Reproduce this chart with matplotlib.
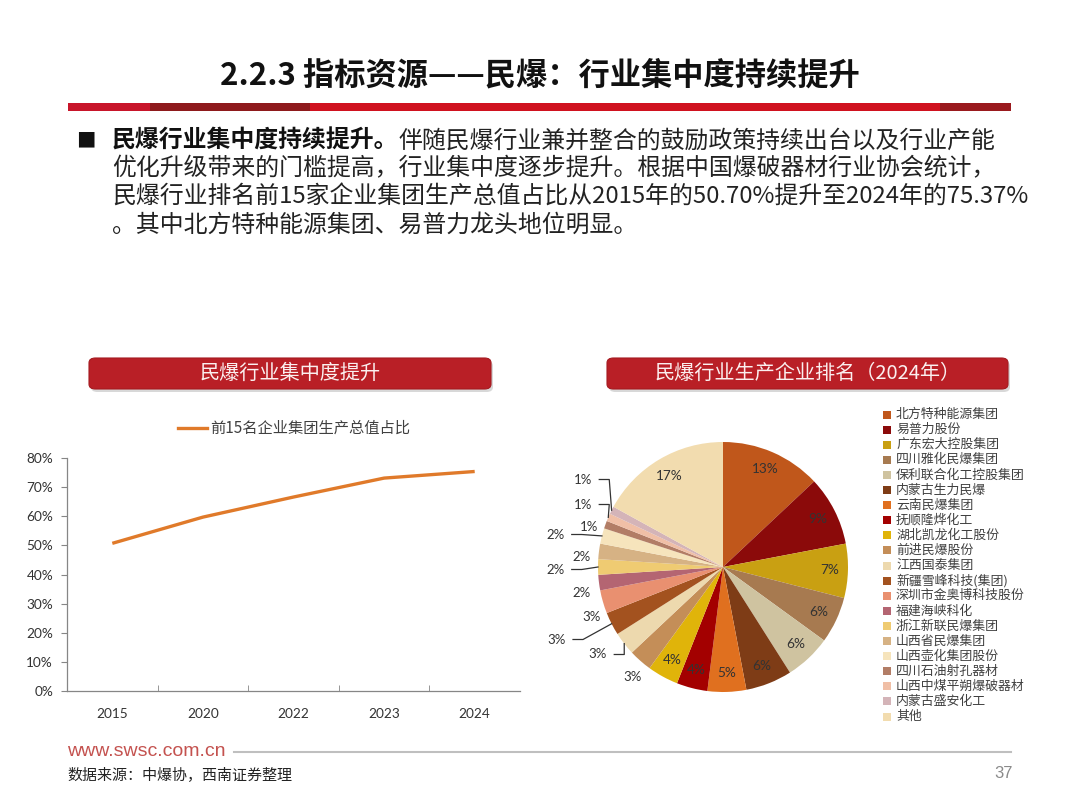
import matplotlib
matplotlib.use("Agg")
import matplotlib.pyplot as plt
from matplotlib.patches import Rectangle, FancyBboxPatch
from matplotlib.lines import Line2D
import numpy as np

plt.rcParams['font.family'] = ['Noto Sans CJK SC', 'DejaVu Sans']

# ---------------- data ----------------
years = ["2015", "2020", "2022", "2023", "2024"]
top15_share = [0.507, 0.597, 0.666, 0.731, 0.7537]
line_label = "前15名企业集团生产总值占比"

companies = ["北方特种能源集团", "易普力股份", "广东宏大控股集团", "四川雅化民爆集团",
             "保利联合化工控股集团", "内蒙古生力民爆", "云南民爆集团", "抚顺隆烨化工",
             "湖北凯龙化工股份", "前进民爆股份", "江西国泰集团", "新疆雪峰科技(集团)",
             "深圳市金奥博科技股份", "福建海峡科化", "浙江新联民爆集团", "山西省民爆集团",
             "山西壶化集团股份", "四川石油射孔器材", "山西中煤平朔爆破器材", "内蒙古盛安化工", "其他"]
shares = [13, 9, 7, 6, 6, 6, 5, 4, 4, 3, 3, 3, 3, 2, 2, 2, 2, 1, 1, 1, 17]
pie_colors = ["#C0571B", "#8B0A0A", "#C9A012", "#A77A50", "#CFC3A0", "#7E3C16", "#E0701F",
              "#A30000", "#E0B40A", "#C48E58", "#EDD9AE", "#A3521F", "#E99070", "#B46572",
              "#EFCB72", "#D6B284", "#F6E4BC", "#B27D66", "#F0BFA6", "#D4B4B8", "#F2DCAF"]

title = "2.2.3 指标资源——民爆：行业集中度持续提升"
body_bold = "民爆行业集中度持续提升。"
body_lines = ["伴随民爆行业兼并整合的鼓励政策持续出台以及行业产能",
              "优化升级带来的门槛提高，行业集中度逐步提升。根据中国爆破器材行业协会统计，",
              "民爆行业排名前15家企业集团生产总值占比从2015年的50.70%提升至2024年的75.37%",
              "。其中北方特种能源集团、易普力龙头地位明显。"]
left_header = "民爆行业集中度提升"
right_header = "民爆行业生产企业排名（2024年）"
source = "数据来源：中爆协，西南证券整理"
website = "www.swsc.com.cn"
page_no = "37"

# ---------------- figure ----------------
W, H = 1080, 810
fig = plt.figure(figsize=(10.8, 8.1), dpi=100)
fig.patch.set_facecolor("white")

def fx(x):
    return x / W

def fy(y):
    return 1 - y / H

def ax_rect(l, t, r, b):
    return [fx(l), fy(b), (r - l) / W, (b - t) / H]

# title
fig.text(fx(540), fy(75), title, ha="center", va="center", fontsize=22.5, fontweight="bold", color="#111111")

# red bar
bar_segments = [(68, 150, "#C8152A"), (150, 310, "#8E1A1C"), (310, 940, "#D0121F"), (940, 1011, "#9A1A1E")]
for x0, x1, c in bar_segments:
    fig.patches.append(Rectangle((fx(x0), fy(111)), (x1 - x0) / W, 8 / H, transform=fig.transFigure,
                                 facecolor=c, edgecolor="none"))

# body text
fs_body = 17.2
fig.text(fx(76), fy(141), "■", ha="left", va="center", fontsize=14, color="#111111")
t0 = fig.text(fx(112), fy(141), body_bold, ha="left", va="center", fontsize=fs_body, fontweight="bold", color="#111111")
fig.canvas.draw()
bb = t0.get_window_extent()
fig.text(bb.x1 / W, fy(141), body_lines[0], ha="left", va="center", fontsize=fs_body, color="#222222")
for i, ln in enumerate(body_lines[1:]):
    fig.text(fx(112), fy(169 + i * 28.3), ln, ha="left", va="center", fontsize=fs_body, color="#222222")

# section headers
def header(l, r, t, b, text):
    shadow = FancyBboxPatch((fx(l + 2), fy(b + 3)), (r - l) / W, (b - t) / H,
                            boxstyle="round,pad=0,rounding_size=0.006", transform=fig.transFigure,
                            facecolor="#D8D8D8", edgecolor="none")
    fig.patches.append(shadow)
    box = FancyBboxPatch((fx(l), fy(b)), (r - l) / W, (b - t) / H,
                         boxstyle="round,pad=0,rounding_size=0.006", transform=fig.transFigure,
                         facecolor="#B91F26", edgecolor="#A51A20", linewidth=0.8)
    fig.patches.append(box)
    fig.text(fx((l + r) / 2), fy((t + b) / 2), text, ha="center", va="center", fontsize=14.5, color="#FBEFEF")

header(89, 491, 358, 389, left_header)
header(607, 1008, 358, 389, right_header)

# ---------------- line chart ----------------
ax = fig.add_axes(ax_rect(67, 458, 520, 691))
xs = np.arange(len(years))
ax.plot(xs, top15_share, color="#E07A2A", linewidth=2.4, solid_capstyle="butt")
ax.set_xlim(-0.5, len(years) - 0.5)
ax.set_ylim(0, 0.8)
ax.set_yticks(np.arange(0, 0.81, 0.1))
ax.set_yticklabels([f"{int(round(v * 100))}%" for v in np.arange(0, 0.81, 0.1)],
                   fontsize=9.8, color="#333333", family=["Lato", "DejaVu Sans"])
ax.set_xticks(xs)
ax.set_xticklabels(years, fontsize=9.8, color="#333333", family=["Lato", "DejaVu Sans"])
ax.set_xticks(np.arange(0.5, len(years) - 0.5, 1), minor=True)
ax.tick_params(axis="x", which="major", length=0, pad=12)
ax.tick_params(axis="x", which="minor", length=4, direction="in", color="#868686")
ax.tick_params(axis="y", length=4, direction="out", color="#868686", pad=6)
for s in ["top", "right"]:
    ax.spines[s].set_visible(False)
for s in ["left", "bottom"]:
    ax.spines[s].set_color("#868686")
    ax.spines[s].set_linewidth(0.9)
ax.patch.set_alpha(0)

# line legend
fig.lines.append(Line2D([fx(178), fx(207)], [fy(428), fy(428)], transform=fig.transFigure,
                        color="#E07A2A", linewidth=2.4))
fig.text(fx(210), fy(428), line_label, ha="left", va="center", fontsize=11, color="#404040")

# ---------------- pie chart ----------------
cx, cy, R = 723, 567, 125
span = 1.4
pax = fig.add_axes(ax_rect(cx - R * span, cy - R * span, cx + R * span, cy + R * span))
wedges, _ = pax.pie(shares, colors=pie_colors, startangle=90, counterclock=False, radius=1.0,
                    wedgeprops=dict(linewidth=0))
pax.set_xlim(-span, span)
pax.set_ylim(-span, span)
pax.set_aspect("equal")
pax.axis("off")

total = float(sum(shares))
inner_idx = [0, 1, 2, 3, 4, 5, 6, 7, 8, 20]
outer_layout = {  # label position (x, y) in pie units, whether a leader line is drawn
    19: ((-1.12, 0.70), True), 18: ((-1.12, 0.50), True), 17: ((-1.07, 0.32), False),
    16: ((-1.34, 0.26), True), 15: ((-1.13, 0.08), False), 14: ((-1.34, -0.02), True),
    13: ((-1.13, -0.21), False), 12: ((-1.05, -0.40), False), 11: ((-1.33, -0.58), True),
    10: ((-1.00, -0.70), True), 9: ((-0.72, -0.88), False),
}
for i, w in enumerate(wedges):
    mid = np.deg2rad((w.theta1 + w.theta2) / 2)
    lab = f"{shares[i] / total * 100:.0f}%"
    if i in inner_idx:
        r = 0.85
        pax.text(r * np.cos(mid), r * np.sin(mid), lab, ha="center", va="center", fontsize=9.8,
                 color="#333333", family=["Lato", "DejaVu Sans"])
    else:
        (lx, ly), leader = outer_layout[i]
        pax.text(lx, ly, lab, ha="center", va="center", fontsize=9.5, color="#333333",
                 family=["Lato", "DejaVu Sans"])
        if leader:
            ex, ey = 1.0 * np.cos(mid), 1.0 * np.sin(mid)
            sx = lx + 0.13
            kx = sx + 0.08
            pax.plot([sx, kx, ex], [ly, ly, ey], color="#333333", linewidth=0.9, clip_on=False)

# pie legend
for i, (name, c) in enumerate(zip(companies, pie_colors)):
    yy = 414.5 + i * 15.1
    fig.patches.append(Rectangle((fx(883), fy(yy + 4)), 8 / W, 8 / H, transform=fig.transFigure,
                                 facecolor=c, edgecolor="none"))
    fig.text(fx(896), fy(yy), name, ha="left", va="center", fontsize=9.3, color="#404040")

# ---------------- footer ----------------
fig.text(fx(67), fy(752), website, ha="left", va="center", fontsize=14, color="#C4524F",
         family=["Liberation Sans", "DejaVu Sans"])
fig.lines.append(Line2D([fx(234), fx(1011)], [fy(752), fy(752)], transform=fig.transFigure,
                        color="#BFBFBF", linewidth=1.5))
fig.text(fx(67), fy(775), source, ha="left", va="center", fontsize=10.8, color="#222222")
fig.text(fx(1013), fy(774), page_no, ha="right", va="center", fontsize=12, color="#8A8A8A",
         family=["Liberation Sans", "DejaVu Sans"])

fig.savefig("out.png", dpi=100, facecolor="white")
